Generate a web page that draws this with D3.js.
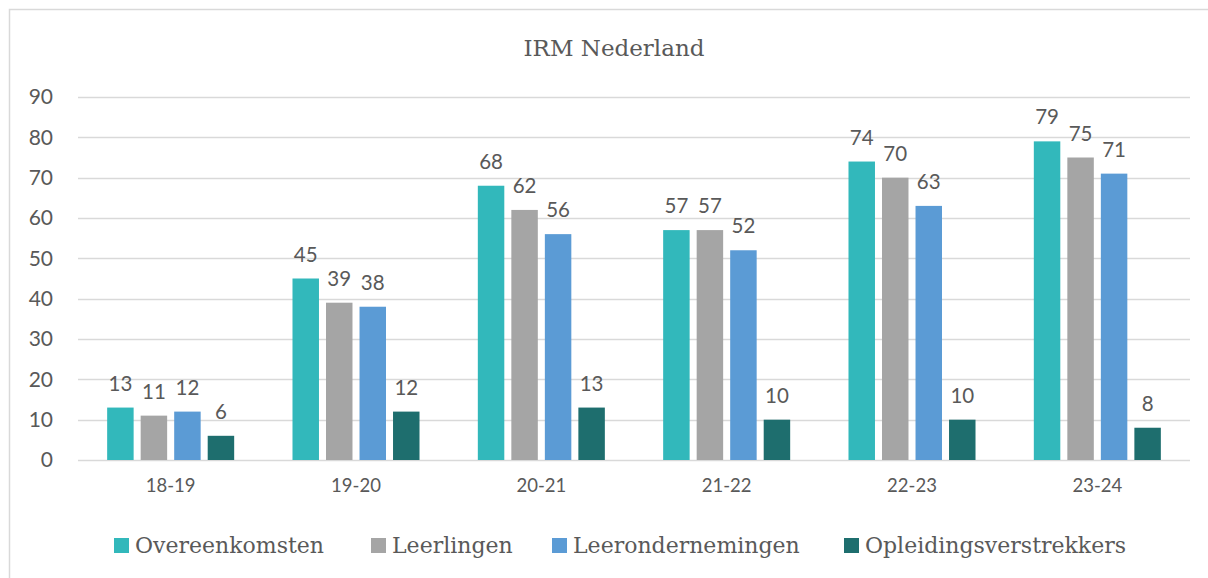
<!DOCTYPE html>
<html>
<head>
<meta charset="utf-8">
<script src="https://cdn.jsdelivr.net/npm/d3@7"></script>
<style>
  body { margin: 0; background: #fff; }
  svg { display: block; }
</style>
</head>
<body>
<div id="chart"></div>
<script>
// data
var categories = ["18-19", "19-20", "20-21", "21-22", "22-23", "23-24"];
var seriesNames = ["Overeenkomsten", "Leerlingen", "Leerondernemingen", "Opleidingsverstrekkers"];
var overeenkomsten = [13, 45, 68, 57, 74, 79];
var leerlingen = [11, 39, 62, 57, 70, 75];
var leerondernemingen = [12, 38, 56, 52, 63, 71];
var opleidingsverstrekkers = [6, 12, 13, 10, 10, 8];
var yTicks = [0, 10, 20, 30, 40, 50, 60, 70, 80, 90];
var colors = ["#32b8bb", "#a5a5a5", "#5b9bd5", "#1e6e6e"];

var values = [overeenkomsten, leerlingen, leerondernemingen, opleidingsverstrekkers];

var width = 1208, height = 578;
var sans = "Lato, 'Open Sans', sans-serif";
var serif = "'DejaVu Serif', serif";
var textColor = "#595959";

var svg = d3.select("#chart").append("svg")
  .attr("width", width)
  .attr("height", height);

// chart frame (runs past the right and bottom edge)
svg.append("rect")
  .attr("x", 9.5).attr("y", 9.5)
  .attr("width", 1210).attr("height", 600)
  .attr("fill", "#fff")
  .attr("stroke", "#d9d9d9")
  .attr("stroke-width", 1.5);

svg.append("text")
  .attr("x", 614).attr("y", 56)
  .attr("text-anchor", "middle")
  .attr("font-family", serif)
  .attr("font-size", 23)
  .attr("fill", textColor)
  .text("IRM Nederland");

var x0 = d3.scaleBand().domain(categories).range([78, 1190]);
var x1 = d3.scaleBand().domain(seriesNames).range([0, x0.bandwidth()])
  .paddingInner(0.21).paddingOuter(0.87);
var y = d3.scaleLinear().domain([0, 90]).range([460, 97]);

// gridlines
svg.append("g").selectAll("line")
  .data(yTicks)
  .join("line")
  .attr("x1", 78).attr("x2", 1190)
  .attr("y1", function(d){ return Math.round(y(d)) + 0.5; })
  .attr("y2", function(d){ return Math.round(y(d)) + 0.5; })
  .attr("stroke", "#d9d9d9")
  .attr("stroke-width", 1.5);

// y axis labels
var yAxis = svg.append("g")
  .attr("transform", "translate(53,0)")
  .call(d3.axisLeft(y).tickValues(yTicks).tickSize(0).tickPadding(0));
yAxis.select(".domain").remove();
yAxis.selectAll("text")
  .attr("font-family", sans)
  .attr("font-size", 21)
  .attr("fill", textColor);

// x axis labels
var xAxis = svg.append("g")
  .attr("transform", "translate(0,479)")
  .call(d3.axisBottom(x0).tickSize(0).tickPadding(0));
xAxis.select(".domain").remove();
xAxis.selectAll("text")
  .attr("font-family", sans)
  .attr("font-size", 18.5)
  .attr("fill", textColor);

// bars
var rows = [];
categories.forEach(function(c, i) {
  seriesNames.forEach(function(s, j) {
    rows.push({ cat: c, series: s, value: values[j][i], color: colors[j] });
  });
});

svg.append("g").selectAll("rect")
  .data(rows)
  .join("rect")
  .attr("x", function(d){ return x0(d.cat) + x1(d.series); })
  .attr("y", function(d){ return y(d.value); })
  .attr("width", x1.bandwidth())
  .attr("height", function(d){ return y(0) - y(d.value); })
  .attr("fill", function(d){ return d.color; });

svg.append("g").selectAll("text")
  .data(rows)
  .join("text")
  .attr("x", function(d){ return x0(d.cat) + x1(d.series) + x1.bandwidth() / 2; })
  .attr("y", function(d){ return y(d.value) - 17; })
  .attr("text-anchor", "middle")
  .attr("font-family", sans)
  .attr("font-size", 20.5)
  .attr("fill", textColor)
  .text(function(d){ return d.value; });

// legend
var legendX = [114, 371, 552, 844];
var legend = svg.append("g").selectAll("g")
  .data(seriesNames)
  .join("g")
  .attr("transform", function(d, i){ return "translate(" + legendX[i] + ",538)"; });
legend.append("rect")
  .attr("width", 15).attr("height", 15)
  .attr("fill", function(d, i){ return colors[i]; });
legend.append("text")
  .attr("x", 21).attr("y", 15)
  .attr("font-family", serif)
  .attr("font-size", 22)
  .attr("fill", textColor)
  .text(function(d){ return d; });
</script>
</body>
</html>
